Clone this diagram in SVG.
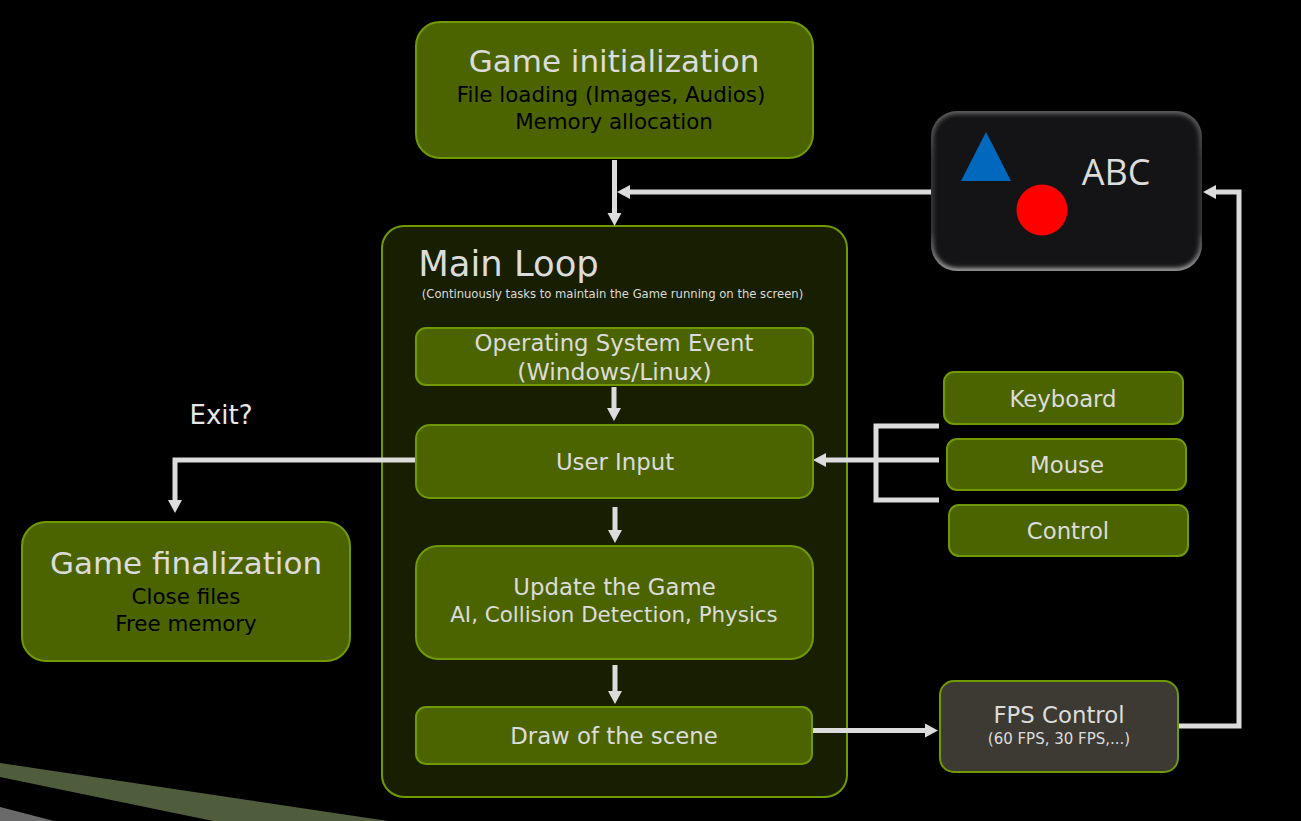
<svg xmlns="http://www.w3.org/2000/svg" width="1301" height="821" viewBox="0 0 1301 821">
<style>
text{font-family:"DejaVu Sans","Noto Sans",sans-serif;text-anchor:middle;fill:#dcdcdc}
.b{fill:#4c6400;stroke:#719900;stroke-width:2}
.d{fill:#000;font-size:21.400px}
.t{font-size:31px}.m{font-size:22.800px}
.c{fill:none;stroke:#dcdcdc;stroke-width:5}
</style>
<defs>
<marker id="a" markerUnits="userSpaceOnUse" markerWidth="16" markerHeight="16" refX="4" refY="8" orient="auto"><path d="M0 1L13 8L0 15z" fill="#dcdcdc"/></marker>
<filter id="glow" x="-5%" y="-5%" width="110%" height="110%"><feGaussianBlur stdDeviation="2"/></filter>
<linearGradient id="rim" x1="0" y1="0" x2="0" y2="1"><stop offset="0" stop-color="#666"/><stop offset=".3" stop-color="#3a3a3c"/><stop offset=".75" stop-color="#3a3a3c"/><stop offset="1" stop-color="#a8a8a8"/></linearGradient>
<clipPath id="sc"><rect x="931" y="111" width="271" height="160" rx="26"/></clipPath>
</defs>
<rect width="1301" height="821" fill="#000"/>
<path d="M0 763L388 821H213L0 777z" fill="#505d3c"/>
<path d="M0 807L54 821H0z" fill="#6a6a6a"/>
<g id="main-loop"><rect x="382" y="226" width="465" height="571" rx="22" fill="#181f00" stroke="#719900" stroke-width="2"/>
<text x="508.500" y="276" style="font-size:35.400px">Main Loop</text>
<text x="612.500" y="298" style="font-size:11.600px">(Continuously tasks to maintain the Game running on the screen)</text></g>
<g id="connectors">
<path class="c" d="M614.500 160V217" marker-end="url(#a)"/>
<path class="c" d="M931 192H626" marker-end="url(#a)"/>
<path class="c" d="M1178 726H1239V192H1212" marker-end="url(#a)"/>
<path class="c" d="M614 387V412" marker-end="url(#a)"/>
<path class="c" d="M615 507V534" marker-end="url(#a)"/>
<path class="c" d="M615 665V695" marker-end="url(#a)"/>
<path class="c" d="M813 730.500H929" marker-end="url(#a)"/>
<path class="c" d="M416 460H175V504" marker-end="url(#a)"/>
<path class="c" d="M939 460H822" marker-end="url(#a)"/>
<path class="c" d="M939 426H876V500H939"/>
</g>
<g id="game-init"><rect class="b" x="416" y="22" width="397" height="136" rx="24"/>
<text x="614" y="72" class="t">Game initialization</text><text x="611" y="102" class="d">File loading (Images, Audios)</text><text x="614" y="129" class="d">Memory allocation</text></g>
<g id="screen"><rect x="931" y="111" width="271" height="160" rx="26" fill="#141416"/>
<g clip-path="url(#sc)"><rect x="931" y="111" width="271" height="160" rx="26" fill="none" stroke="url(#rim)" stroke-width="6" filter="url(#glow)"/></g>
<path d="M986 132L1011 181H961z" fill="#0069bd"/><circle cx="1042" cy="210" r="25.500" fill="#f00"/>
<text x="1116" y="185" style="font-size:36px;font-family:'Open Sans',sans-serif">ABC</text></g>
<g id="os-event"><rect class="b" x="416" y="328" width="397" height="57" rx="10"/>
<text x="614" y="351" class="m">Operating System Event</text><text x="614.500" y="380" style="font-size:23.500px">(Windows/Linux)</text></g>
<g id="user-input"><rect class="b" x="416" y="425" width="397" height="73" rx="14"/><text x="615" y="470" class="m">User Input</text></g>
<g id="update"><rect class="b" x="416" y="546" width="397" height="113" rx="22"/><text x="614.500" y="595" class="m">Update the Game</text><text x="614" y="622" style="font-size:21.400px">AI, Collision Detection, Physics</text></g>
<g id="draw"><rect class="b" x="416" y="707" width="396" height="57" rx="10"/><text x="614" y="744" class="m">Draw of the scene</text></g>
<g id="keyboard"><rect class="b" x="944" y="372" width="239" height="52" rx="10"/><text x="1063" y="407" class="m">Keyboard</text></g>
<g id="mouse"><rect class="b" x="947" y="439" width="239" height="51" rx="10"/><text x="1067" y="473" class="m">Mouse</text></g>
<g id="control"><rect class="b" x="949" y="505" width="239" height="51" rx="10"/><text x="1068" y="539" class="m">Control</text></g>
<g id="fps"><rect x="940" y="681" width="238" height="91" rx="14" fill="#3d3a33" stroke="#719900" stroke-width="2"/><text x="1059" y="723" class="m">FPS Control</text><text x="1059" y="744" style="font-size:15px">(60 FPS, 30 FPS,...)</text></g>
<g id="game-final"><rect class="b" x="22" y="522" width="328" height="139" rx="24"/>
<text x="186" y="574" class="t">Game finalization</text><text x="186" y="604" class="d">Close files</text><text x="186" y="631" class="d">Free memory</text></g>
<text x="221" y="424" style="font-size:26px;fill:#e8e8e8">Exit?</text>
</svg>
